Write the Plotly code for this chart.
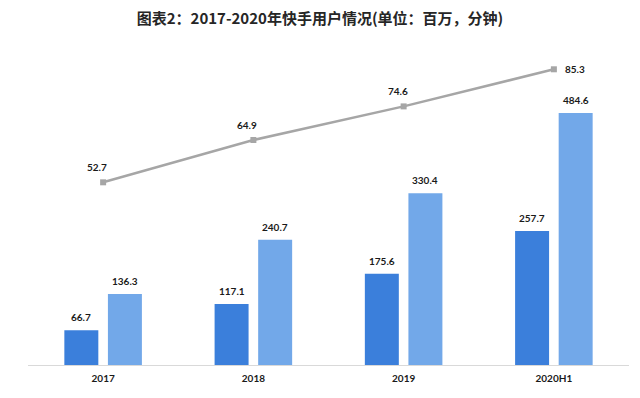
import plotly.graph_objects as go

categories = ["2017", "2018", "2019", "2020H1"]
dau = [66.7, 117.1, 175.6, 257.7]
mau = [136.3, 240.7, 330.4, 484.6]
minutes = [52.7, 64.9, 74.6, 85.3]

title_text = "图表2：2017-2020年快手用户情况(单位：百万，分钟)"

label_font = dict(family="Lato, Arial, sans-serif", size=10, color="#1a1a1a")

# page body has an 8px default margin, so the figure is sized to fit the window
W, H = 632, 390
BAR_OFFSET = 21.8  # px from category centre to each bar centre

fig = go.Figure()
fig.add_trace(go.Bar(
    x=categories, y=dau, name="平均日活跃用户",
    marker=dict(color="#3b7fdb", line=dict(width=0)),
))
fig.add_trace(go.Bar(
    x=categories, y=mau, name="平均月活跃用户",
    marker=dict(color="#72a8e9", line=dict(width=0)),
))
fig.add_trace(go.Scatter(
    x=categories, y=minutes, name="日均使用时长", yaxis="y2",
    mode="lines+markers",
    line=dict(color="#a6a6a6", width=2.5),
    marker=dict(symbol="square", size=6, color="#a6a6a6"),
    cliponaxis=False,
))

annotations = []
for series, shift in ((dau, -BAR_OFFSET), (mau, BAR_OFFSET)):
    for i, v in enumerate(series):
        annotations.append(dict(
            x=i, y=v, xref="x", yref="y", text=f"<b>{v}</b>",
            showarrow=False, font=label_font,
            xanchor="center", yanchor="middle",
            xshift=shift, yshift=13,
        ))
for i, v in enumerate(minutes):
    last = i == len(minutes) - 1
    annotations.append(dict(
        x=i, y=v, xref="x", yref="y2", text=f"<b>{v}</b>",
        showarrow=False, font=label_font,
        xanchor="center", yanchor="middle",
        xshift=21 if last else -6, yshift=0 if last else 15,
    ))

fig.update_layout(
    width=W, height=H,
    margin=dict(l=20, r=11, t=45, b=33),
    paper_bgcolor="white", plot_bgcolor="white",
    showlegend=False,
    barmode="group", bargap=0.42, bargroupgap=0.22,
    title=dict(text=f"<b>{title_text}</b>", x=(320 - 8) / W, xanchor="center",
               y=1 - (18.5 - 8) / H, yanchor="middle",
               font=dict(family="Noto Sans CJK SC", size=15, color="#262626")),
    xaxis=dict(type="category", categoryorder="array", categoryarray=categories,
               range=[-0.5, len(categories) - 0.5],
               showgrid=False, showline=True, linecolor="#d9d9d9", linewidth=1,
               ticks="", ticklabelstandoff=4,
               tickfont=dict(family="Lato, Arial, sans-serif", size=10, color="#1a1a1a"),
               tickprefix="<b>", ticksuffix="</b>", zeroline=False),
    yaxis=dict(range=[0, 600], visible=False, showgrid=False, zeroline=False),
    yaxis2=dict(range=[0, 90], overlaying="y", side="right", visible=False,
                showgrid=False, zeroline=False),
    annotations=annotations,
)

fig.write_html("out.html")
